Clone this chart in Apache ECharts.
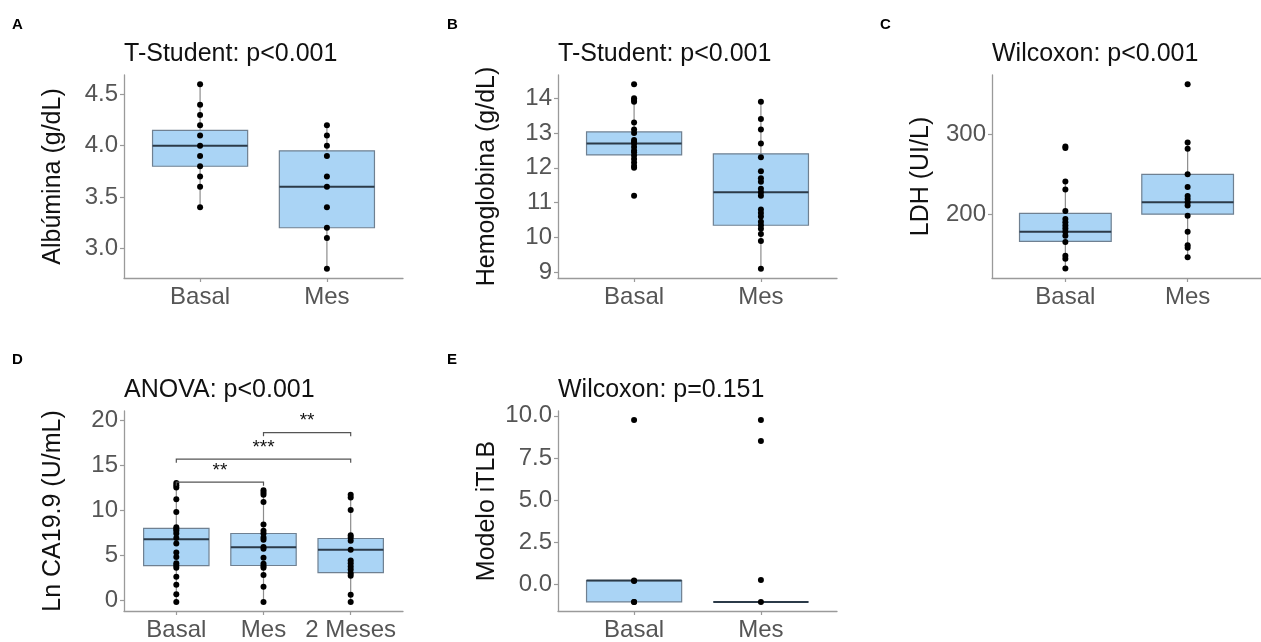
<!DOCTYPE html>
<html>
<head>
<meta charset="utf-8">
<script src="https://cdn.jsdelivr.net/npm/echarts@6/dist/echarts.min.js"></script>
<style>
  html, body { margin: 0; padding: 0; background: #fff; }
  #chart { width: 1261px; height: 642px; }
</style>
</head>
<body>
<div id="chart"></div>
<script>
// ---------------- DATA ----------------
const catsTwo = ['Basal', 'Mes'];
const catsThree = ['Basal', 'Mes', '2 Meses'];

// Panel A: Albúmina
const A_basal = [4.6, 4.4, 4.3, 4.2, 4.1, 4.0, 3.9, 3.8, 3.7, 3.6, 3.4];
const A_mes = [4.2, 4.1, 4.0, 3.9, 3.7, 3.6, 3.4, 3.2, 3.1, 2.8];
// box stats: [whiskerLow, Q1, median, Q3, whiskerHigh]
const A_boxBasal = [3.4, 3.8, 4.0, 4.15, 4.6];
const A_boxMes = [2.8, 3.2, 3.6, 3.95, 4.2];
const A_yTicks = [3.0, 3.5, 4.0, 4.5];
const A_yLabels = ['3.0', '3.5', '4.0', '4.5'];

// Panel B: Hemoglobina
const B_basal = [14.4, 14.0, 13.95, 13.9, 13.3, 13.1, 13.0, 12.8, 12.75, 12.7, 12.6, 12.5, 12.45, 12.35, 12.25, 12.15, 12.05, 12.0, 11.2];
const B_mes = [13.9, 13.4, 13.1, 12.7, 12.3, 11.9, 11.7, 11.6, 11.4, 11.3, 11.2, 10.8, 10.7, 10.6, 10.45, 10.35, 10.25, 10.1, 9.9, 9.1];
const B_boxBasal = [12.0, 12.37, 12.7, 13.03, 14.0];
const B_boxMes = [9.1, 10.35, 11.3, 12.4, 13.9];
const B_yTicks = [9, 10, 11, 12, 13, 14];
const B_yLabels = ['9', '10', '11', '12', '13', '14'];

// Panel C: LDH
const C_basal = [285, 283, 241, 231, 204, 194, 190, 186, 182, 178, 173, 165, 148, 144, 132];
const C_mes = [363, 290, 282, 250, 234, 223, 219, 215, 211, 198, 178, 161, 158, 146];
const C_boxBasal = [132, 166, 178, 201, 241];
const C_boxMes = [146, 200, 215, 250, 290];
const C_yTicks = [200, 300];
const C_yLabels = ['200', '300'];

// Panel D: Ln CA19.9
const D_basal = [13.0, 12.75, 12.5, 11.2, 9.8, 8.1, 7.9, 7.7, 7.4, 6.9, 6.3, 5.3, 4.8, 4.1, 3.85, 3.6, 2.6, 1.7, 0.65, -0.2];
const D_mes = [12.2, 11.95, 11.7, 10.9, 8.4, 7.7, 7.4, 6.95, 6.7, 5.9, 5.7, 4.7, 4.05, 3.8, 3.6, 2.8, 1.5, -0.2];
const D_2meses = [11.7, 11.4, 10.0, 7.2, 6.95, 6.6, 5.6, 4.4, 4.1, 3.75, 3.4, 3.0, 2.7, 0.6, -0.2];
const D_boxBasal = [-0.2, 3.84, 6.77, 7.97, 13.0];
const D_boxMes = [-0.2, 3.85, 5.87, 7.4, 12.2];
const D_box2Meses = [-0.2, 3.05, 5.6, 6.85, 11.7];
const D_yTicks = [0, 5, 10, 15, 20];
const D_yLabels = ['0', '5', '10', '15', '20'];
// significance brackets
const D_bracketFrom = [1, 1, 2];
const D_bracketTo = [2, 3, 3];
const D_bracketY = [13.1, 15.65, 18.6];
const D_bracketLabel = ['**', '***', '**'];

// Panel E: Modelo iTLB
const E_basal = [9.75, 0.2, 0.18, -1.07, -1.07];
const E_mes = [9.75, 8.5, 0.23, -1.07];
const E_boxBasal = [-1.07, -1.07, 0.2, 0.2, 0.2];
const E_boxMes = [-1.07, -1.07, -1.07, -1.07, -1.07];
const E_yTicks = [0.0, 2.5, 5.0, 7.5, 10.0];
const E_yLabels = ['0.0', '2.5', '5.0', '7.5', '10.0'];

// ---------------- LAYOUT / STYLE ----------------
const FONT = "'Liberation Sans', Arial, Helvetica, sans-serif";
const panels = [
  { letter: 'A', letterPos: [12, 17], title: 'T-Student: p<0.001', yName: 'Albúmina (g/dL)',
    grid: { left: 124, top: 75, width: 279, height: 203 }, yMin: 2.71, yMax: 4.69,
    yTicks: A_yTicks, yLabels: A_yLabels, cats: catsTwo, groups: [A_basal, A_mes], boxes: [A_boxBasal, A_boxMes] },
  { letter: 'B', letterPos: [447, 17], title: 'T-Student: p<0.001', yName: 'Hemoglobina (g/dL)',
    grid: { left: 558, top: 75, width: 279, height: 203 }, yMin: 8.835, yMax: 14.665,
    yTicks: B_yTicks, yLabels: B_yLabels, cats: catsTwo, groups: [B_basal, B_mes], boxes: [B_boxBasal, B_boxMes] },
  { letter: 'C', letterPos: [880, 17], title: 'Wilcoxon: p<0.001', yName: 'LDH (UI/L)',
    grid: { left: 992, top: 75, width: 279, height: 203 }, yMin: 120, yMax: 374.6,
    yTicks: C_yTicks, yLabels: C_yLabels, cats: catsTwo, groups: [C_basal, C_mes], boxes: [C_boxBasal, C_boxMes] },
  { letter: 'D', letterPos: [12, 352], title: 'ANOVA: p<0.001', yName: 'Ln CA19.9 (U/mL)',
    grid: { left: 124, top: 411, width: 279, height: 204 }, yMin: -1.2, yMax: 21.0,
    yTicks: D_yTicks, yLabels: D_yLabels, cats: catsThree, groups: [D_basal, D_mes, D_2meses],
    boxes: [D_boxBasal, D_boxMes, D_box2Meses] },
  { letter: 'E', letterPos: [447, 352], title: 'Wilcoxon: p=0.151', yName: 'Modelo iTLB',
    grid: { left: 558, top: 411, width: 279, height: 204 }, yMin: -1.61, yMax: 10.29,
    yTicks: E_yTicks, yLabels: E_yLabels, cats: catsTwo, groups: [E_basal, E_mes], boxes: [E_boxBasal, E_boxMes] }
];

const AXIS_COLOR = '#9a9a9a';
const LABEL_COLOR = '#555555';

function boxRender(params, api) {
  const x = api.value(0);
  const lo = api.value(1), q1 = api.value(2), med = api.value(3), q3 = api.value(4), hi = api.value(5);
  const hw = 0.375;
  const pLo = api.coord([x, lo]), pHi = api.coord([x, hi]);
  const pQ1L = api.coord([x - hw, q1]), pQ3R = api.coord([x + hw, q3]);
  const pML = api.coord([x - hw, med]), pMR = api.coord([x + hw, med]);
  return {
    type: 'group',
    children: [
      { type: 'line', shape: { x1: pLo[0], y1: pLo[1], x2: pHi[0], y2: pHi[1] },
        style: { stroke: '#8c8c8c', lineWidth: 1.2 } },
      { type: 'rect', shape: { x: pQ1L[0], y: pQ3R[1], width: pQ3R[0] - pQ1L[0], height: pQ1L[1] - pQ3R[1] },
        style: { fill: '#AAD4F5', stroke: '#6F8091', lineWidth: 1.2 } },
      { type: 'line', shape: { x1: pML[0], y1: pML[1], x2: pMR[0], y2: pMR[1] },
        style: { stroke: '#2B3A48', lineWidth: 2 } }
    ]
  };
}

function bracketRender(params, api) {
  const x1 = api.value(0), x2 = api.value(1), y = api.value(2);
  const tip = 0.4;
  const a = api.coord([x1, y - tip]), b = api.coord([x1, y]), c = api.coord([x2, y]), d = api.coord([x2, y - tip]);
  return {
    type: 'group',
    children: [
      { type: 'polyline', shape: { points: [a, b, c, d] }, style: { stroke: '#555', lineWidth: 1.2, fill: null } },
      { type: 'text', x: (b[0] + c[0]) / 2, y: b[1] - 2,
        style: { text: D_bracketLabel[params.dataIndex], fontSize: 19, fill: '#111', align: 'center',
                 verticalAlign: 'bottom', fontFamily: FONT } }
    ]
  };
}

const grids = [], xAxes = [], yAxes = [], series = [], titles = [];
panels.forEach((p, i) => {
  grids.push(Object.assign({ containLabel: false }, p.grid));
  const xs = p.cats.map((c, k) => k + 1);
  xAxes.push({
    type: 'value', gridIndex: i, min: 0.4, max: p.cats.length + 0.6,
    splitLine: { show: false },
    axisLine: { show: true, onZero: false, lineStyle: { color: AXIS_COLOR, width: 1.3 } },
    axisTick: { show: true, customValues: xs, length: 4, lineStyle: { color: AXIS_COLOR, width: 1.2 } },
    axisLabel: { customValues: xs, formatter: v => p.cats[Math.round(v) - 1], fontSize: 24,
                 color: LABEL_COLOR, margin: 7, fontFamily: FONT }
  });
  yAxes.push({
    type: 'value', gridIndex: i, min: p.yMin, max: p.yMax,
    splitLine: { show: false },
    axisLine: { show: true, onZero: false, lineStyle: { color: AXIS_COLOR, width: 1.3 } },
    axisTick: { show: true, customValues: p.yTicks, length: 4, lineStyle: { color: AXIS_COLOR, width: 1.2 } },
    axisLabel: { customValues: p.yTicks,
                 formatter: v => { const k = p.yTicks.findIndex(t => Math.abs(t - v) < 1e-9); return k >= 0 ? p.yLabels[k] : ''; },
                 fontSize: 24, color: LABEL_COLOR, margin: 6, fontFamily: FONT },
    name: p.yName, nameLocation: 'middle', nameGap: 58,
    nameTextStyle: { fontSize: 25, color: '#111', fontFamily: FONT }
  });
  series.push({
    type: 'custom', xAxisIndex: i, yAxisIndex: i, renderItem: boxRender, z: 2,
    encode: { x: 0, y: [1, 2, 3, 4, 5] },
    data: p.boxes.map((b, k) => [k + 1].concat(b))
  });
  const pts = [];
  p.groups.forEach((g, k) => g.forEach(v => pts.push([k + 1, v])));
  series.push({
    type: 'scatter', xAxisIndex: i, yAxisIndex: i, z: 5, symbol: 'circle', symbolSize: 6,
    itemStyle: { color: '#000', opacity: 1 }, data: pts, silent: true
  });
  titles.push({ text: p.title, left: p.grid.left, top: p.grid.top - 33, padding: 0,
                textStyle: { fontSize: 25, fontWeight: 'normal', color: '#111', fontFamily: FONT } });
  titles.push({ text: p.letter, left: p.letterPos[0], top: p.letterPos[1], padding: 0,
                textStyle: { fontSize: 15, fontWeight: 'bold', color: '#000', fontFamily: FONT } });
});

series.push({
  type: 'custom', xAxisIndex: 3, yAxisIndex: 3, renderItem: bracketRender, z: 6,
  encode: { x: [0, 1], y: 2 },
  data: D_bracketFrom.map((f, k) => [f, D_bracketTo[k], D_bracketY[k]])
});

const chart = echarts.init(document.getElementById('chart'), null, { renderer: 'canvas' });
chart.setOption({
  animation: false,
  backgroundColor: '#fff',
  textStyle: { fontFamily: FONT },
  title: titles,
  grid: grids,
  xAxis: xAxes,
  yAxis: yAxes,
  series: series
});
</script>
</body>
</html>
